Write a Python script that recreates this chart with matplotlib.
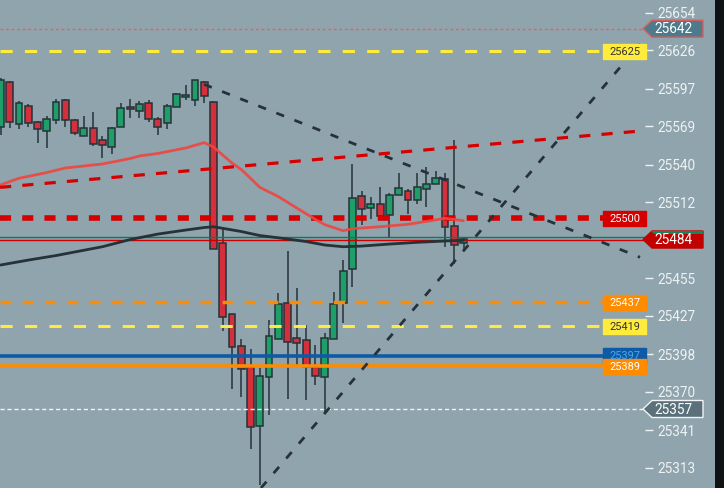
import matplotlib
matplotlib.use("Agg")
import matplotlib.pyplot as plt
from matplotlib.patches import Polygon, Rectangle
from matplotlib.transforms import IdentityTransform

# ---------------- data ----------------
opens = [25568.5, 25601.8, 25570.3, 25584.1, 25571.8, 25565.1, 25573.3, 25588.3, 25573.3, 25561.3,
         25567.3, 25558.3, 25553.1, 25568.1, 25583.1, 25580.1, 25586.1, 25574.1, 25571.1, 25583.1,
         25590.6, 25588.3, 25601.8, 25586.8, 25481.2, 25427.9, 25404.0, 25388.7, 25344.5, 25380.7,
         25409.2, 25436.4, 25410.0, 25408.5, 25388.7, 25381.2, 25409.2, 25436.2, 25461.7, 25516.4,
         25507.4, 25510.4, 25502.1, 25517.1, 25520.1, 25513.4, 25521.6, 25525.4, 25529.1, 25493.9,
         25481.2]
highs = [25605.0, 25603.0, 25587.8, 25585.6, 25573.0, 25576.8, 25589.1, 25589.5, 25574.5, 25576.6,
         25579.3, 25561.3, 25568.1, 25586.3, 25589.1, 25587.6, 25588.5, 25576.0, 25585.3, 25593.6,
         25599.6, 25603.3, 25602.6, 25587.5, 25491.6, 25428.5, 25409.4, 25401.9, 25387.9, 25423.7,
         25443.9, 25475.4, 25447.7, 25419.9, 25404.9, 25413.9, 25444.7, 25468.6, 25540.6, 25520.1,
         25515.6, 25523.1, 25518.6, 25533.6, 25521.6, 25533.6, 25538.1, 25535.1, 25533.6, 25558.3,
         25485.7]
lows = [25562.3, 25567.3, 25566.8, 25568.1, 25556.6, 25552.8, 25570.3, 25568.1, 25562.5, 25561.3,
        25553.9, 25544.9, 25547.9, 25568.1, 25574.8, 25574.8, 25571.8, 25562.1, 25567.0, 25583.1,
        25588.3, 25583.8, 25586.1, 25476.7, 25415.7, 25372.2, 25366.2, 25327.2, 25300.0, 25352.7,
        25409.2, 25364.5, 25388.7, 25363.7, 25375.0, 25354.2, 25409.2, 25421.6, 25448.2, 25495.1,
        25499.1, 25498.4, 25484.9, 25517.1, 25502.9, 25510.4, 25508.1, 25525.4, 25478.2, 25465.4,
        25475.2]
closes = [25603.5, 25572.3, 25586.1, 25571.1, 25566.6, 25574.1, 25586.8, 25573.3, 25563.6, 25567.3,
          25555.4, 25554.6, 25567.3, 25582.3, 25581.6, 25585.3, 25574.1, 25568.1, 25583.8, 25592.8,
          25592.1, 25603.3, 25591.3, 25476.7, 25425.7, 25403.2, 25386.7, 25343.3, 25381.7, 25411.5,
          25435.4, 25407.4, 25406.2, 25388.7, 25381.9, 25410.0, 25435.4, 25460.2, 25514.9, 25506.6,
          25510.4, 25501.4, 25517.1, 25522.4, 25513.4, 25523.1, 25525.4, 25529.9, 25493.1, 25479.7,
          25484.2]

ma_fast_idx = [0, 2, 5, 7, 11, 14, 15, 17, 20, 22, 23, 25, 26, 27, 28, 30, 32, 34, 35, 37, 38, 41, 44, 46, 48, 50]
ma_fast_val = [25524.9, 25529.9, 25534.2, 25537.6, 25540.6, 25544.7, 25546.6, 25548.5, 25552.6, 25556.6,
               25553.3, 25541.3, 25536.5, 25529.9, 25523.1, 25516.2, 25507.6, 25499.1, 25495.2, 25490.6,
               25492.1, 25493.6, 25495.4, 25497.6, 25499.9, 25498.1]
ma_slow_idx = [0, 3, 6, 11, 14, 17, 20, 22, 23, 24, 26, 28, 30, 33, 35, 37, 39, 42, 45, 48, 50]
ma_slow_val = [25464.9, 25468.6, 25472.0, 25478.6, 25484.0, 25488.1, 25491.1, 25493.0, 25493.6, 25492.4,
               25490.0, 25487.0, 25485.3, 25482.5, 25479.9, 25478.6, 25479.1, 25480.6, 25481.9, 25482.9,
               25483.4]

trend_down_x = [21.98, 69.06]
trend_down_y = [25600.3, 25470.7]
trend_up_x = [28.13, 69.06]
trend_up_y = [25297.8, 25630.5]
trend_red_x = [-0.05, 69.06]
trend_red_y = [25523.1, 25565.3]

# 25484 sits behind the last-price label, so it is not listed
tick_values = [25654, 25626, 25597, 25569, 25540, 25512, 25455, 25427, 25398, 25370, 25341, 25313]

level_high = 25642
level_low = 25357
level_yellow_top = 25625
level_red = 25500
level_orange_dash = 25437
level_yellow_low = 25419
level_blue = 25397
level_orange = 25389
level_last_green = 25485.7
level_last_red = 25483.4
last_price = 25484

# ---------------- style ----------------
BG = "#90a4ae"
GREEN = "#1e9e68"
RED = "#d3303c"
EDGE = "#263238"
FONT = ["Roboto", "DejaVu Sans"]
plt.rcParams["font.family"] = FONT

W, H = 724, 488
fig = plt.figure(figsize=(W / 100, H / 100), dpi=100, facecolor=BG)
ax = fig.add_axes([0, 0, 645 / W, 1])
ax.set_facecolor(BG)
for s in ax.spines.values():
    s.set_visible(False)

ax.set_xlim(-0.054, 69.6)
ax.set_ylim(25297.8, 25663.5)

# candles
idx = list(range(len(opens)))
for i in idx:
    o, h, l, c = opens[i], highs[i], lows[i], closes[i]
    col = GREEN if c >= o else RED
    ax.vlines(i, l, h, color=EDGE, lw=1.1, zorder=3)
    ax.bar(i, abs(c - o), bottom=min(o, c), width=0.74, color=col,
           edgecolor=EDGE, linewidth=1.1, zorder=4)

# horizontal levels
box_frac = 603 / 645
ax.axhline(level_high, color="#e06060", lw=1, ls=(0, (2, 2)), zorder=5)
ax.axhline(level_low, color="#f2f4f5", lw=1, ls=(0, (3, 2)), zorder=5)
ax.axhline(level_yellow_top, xmax=box_frac, color="#ffeb3b", lw=2.2, ls=(0, (4, 4)), zorder=5)
ax.axhline(level_red, xmax=box_frac, color="#d50000", lw=4, ls=(0, (2, 2)), zorder=5)
ax.axhline(level_orange_dash, xmax=box_frac, color="#ff8c00", lw=2.5, ls=(0, (3.2, 3.2)), zorder=5)
ax.axhline(level_yellow_low, xmax=box_frac, color="#ffeb3b", lw=2.2, ls=(0, (4, 4)), zorder=5)
ax.axhline(level_blue, xmax=box_frac, color="#0d5aa7", lw=2.6, zorder=5)
ax.axhline(level_orange, xmax=box_frac, color="#ff8c00", lw=2.6, zorder=5)
ax.axhline(level_last_green, color="#11775a", lw=1, zorder=5)
ax.axhline(level_last_red, color="#cc0000", lw=1, zorder=5)

# moving averages
ax.plot(ma_fast_idx, ma_fast_val, color="#f0453f", lw=2, alpha=0.9, zorder=6, solid_capstyle="round")
ax.plot(ma_slow_idx, ma_slow_val, color="#263238", lw=2, zorder=6, solid_capstyle="round")

# trend lines
ax.plot(trend_red_x, trend_red_y, color="#d50000", lw=2.3, ls=(0, (3.5, 3.5)), zorder=6)
ax.plot(trend_down_x, trend_down_y, color="#263238", lw=2, ls=(0, (3, 4)), zorder=6)
ax.plot(trend_up_x, trend_up_y, color="#263238", lw=2, ls=(0, (3, 4)), zorder=6)

# price axis
ax.yaxis.tick_right()
ax.set_yticks(tick_values)
ax.set_yticklabels([str(v) for v in tick_values])
ax.tick_params(axis="y", direction="out", length=6, width=1, color="#eef2f3",
               labelcolor="#eef2f3", labelsize=9.8, pad=3)
ax.set_xticks([])

# right dark strip
fig.add_artist(Rectangle((715 / W, 0), 9 / W, 1, transform=fig.transFigure,
                         fc="#0e1214", ec="none", zorder=1))

fig.canvas.draw()
ident = IdentityTransform()


def ypix(price):
    return ax.transData.transform((0, price))[1]


def rect_label(price, text, fc, tc, ec=None):
    y = ypix(price)
    x0, x1, h = 603, 646, 15
    fig.add_artist(Rectangle((x0, y - h / 2), x1 - x0, h, transform=ident,
                             fc=fc, ec=ec or fc, lw=1, zorder=20))
    fig.text((x0 + x1) / 2, y - 0.5, text, transform=ident, ha="center", va="center",
             color=tc, fontsize=7.9, zorder=21, family=FONT)


def arrow_label(price, text, fc, ec, top=None):
    y = ypix(price)
    xt, xb, xr, h = 643, 652, 703, 17
    pts = [(xt, y), (xb, y + h / 2), (xr, y + h / 2), (xr, y - h / 2), (xb, y - h / 2)]
    fig.add_artist(Polygon(pts, closed=True, transform=ident, fc=fc, ec=ec, lw=1, zorder=20))
    if top:
        fig.add_artist(Polygon([(xb - 1, y + h / 2), (xr, y + h / 2), (xr, y + h / 2 - 2.5),
                                (xb + 1.5, y + h / 2 - 2.5)], closed=True, transform=ident,
                               fc=top, ec="none", zorder=21))
    fig.text(654, y - 0.5, text, transform=ident, ha="left", va="center",
             color="white", fontsize=9.8, zorder=22, family=FONT)


arrow_label(level_high, str(level_high), "#4e7b8b", "#e35b5b")
arrow_label(last_price, str(last_price), "#c20000", "#c20000", top="#0b8a5e")
arrow_label(level_low, str(level_low), "#5a707a", "#f2f4f5")
rect_label(level_yellow_top, str(level_yellow_top), "#ffeb3b", "#333333")
rect_label(level_red, str(level_red), "#d50000", "white")
rect_label(level_orange_dash, str(level_orange_dash), "#ff8c00", "white")
rect_label(level_yellow_low, str(level_yellow_low), "#ffeb3b", "#333333")
rect_label(level_blue, str(level_blue), "#0d5aa7", "#4aa8ee")
rect_label(level_orange, str(level_orange), "#ff8c00", "white")

fig.savefig("out.png", dpi=100, facecolor=BG)
